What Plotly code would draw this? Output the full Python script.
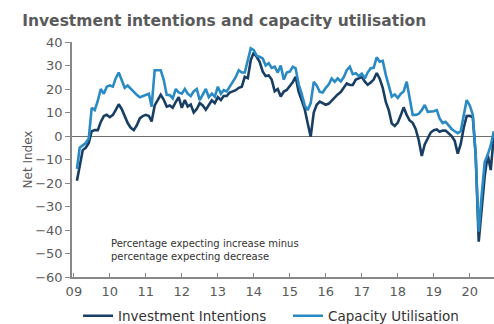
import pandas as pd
import plotly.graph_objects as go

# Monthly survey balances, Feb 2009 - Sep 2020
dates = pd.date_range("2009-02-01", periods=140, freq="MS")

investment_intentions = [
    -19, -12, -6, -5, -3, 2, 2.5, 2.5, 6, 8.5, 9,
    8, 9, 11, 13.5, 11.5, 8.5, 5.5, 3.5, 2.5, 4.5, 7.5, 8.5,
    9, 8.5, 6.2, 13, 15.5, 17.5, 15.5, 12.5, 13, 12, 14.5, 16.5,
    12, 15.3, 12.5, 13.4, 10, 11.5, 14, 13, 11.2, 13, 15.2, 14,
    16.5, 15.3, 17, 17, 18.5, 19, 19.5, 20.5, 21, 25.2, 24.6, 32.3,
    35.5, 33.5, 31.6, 27.5, 25.5, 25.8, 24, 19, 20, 16.8, 18.9, 19.6,
    21.3, 23, 25.2, 18.8, 15.3, 11.5, 5.5, -0.3, 10, 13.3, 14.6, 14,
    13.3, 13.8, 15.2, 16.7, 17.7, 18.7, 20.7, 22.4, 21.7, 21.7, 24, 24.6,
    25.1, 23.1, 21.8, 22.8, 24, 26.8, 24.4, 20.5, 14.5, 11, 5.3, 4.3,
    5.7, 8.9, 12.2, 9, 6.6, 5.6, 3, -1.7, -8.5, -3.6, -1, 1.5,
    2.5, 2.8, 1.8, 2.3, 2.3, 1.2, 0, -2, -7.5, -3.5, 3.5, 8.5,
    8.6, 8, -8, -45, -30, -17, -8, -14.5, 0.4,
]

capacity_utilisation = [
    -14, -5, -4, -3, -1, 12, 11, 15, 20, 18, 21,
    21.5, 21, 24.5, 27, 24, 20.5, 21.5, 20, 18.5, 17.5, 16.5, 17,
    17.5, 18, 12.5, 28, 28, 28, 24, 17.5, 17.4, 16, 20, 18.5,
    18, 20, 18, 17, 19, 20, 15.3, 18, 20, 16.5, 18, 16.7,
    21, 18, 19.5, 19, 21, 22.5, 25, 28, 27, 27, 32, 37.3,
    36.5, 34, 33.7, 33, 30, 31, 29, 29.5, 27, 30, 24, 27,
    27.4, 29.5, 28.8, 22, 18, 13, 11, 14, 23, 21.5, 18.8, 18.5,
    20.5, 22, 24.5, 23.1, 24.5, 23.2, 25, 28, 29.5, 26.3, 26.7, 25.5,
    26.5, 24.5, 27, 28.8, 29, 33.5, 31.6, 32, 26, 21, 16.8, 17.7,
    16.2, 18, 18.9, 23.1, 15.3, 9, 9, 9.4, 11, 13.2, 10.3, 10.3,
    10.5, 11, 7.5, 5.5, 6, 4.5, 3, 2, 1.2, 2, 8, 15.3,
    13, 9, -8, -40.7, -25, -11, -8, -4, 2,
]

year_ticks = pd.date_range("2009-01-01", "2020-01-01", freq="YS")
year_labels = ["09", "10", "11", "12", "13", "14", "15", "16", "17", "18", "19", "20"]
y_ticks = [40, 30, 20, 10, 0, -10, -20, -30, -40, -50, -60]

DARK = "#183f63"
LIGHT = "#2a8ac4"
GREY = "#5a5a5a"
FONT = "DejaVu Sans"

fig = go.Figure()
fig.add_trace(go.Scatter(
    x=dates, y=investment_intentions, mode="lines",
    name="Investment Intentions", line=dict(color=DARK, width=2.6),
    legend="legend",
))
fig.add_trace(go.Scatter(
    x=dates, y=capacity_utilisation, mode="lines",
    name="Capacity Utilisation", line=dict(color=LIGHT, width=2.6),
    legend="legend2",
))

legend_style = dict(
    orientation="h", xref="container", yref="container",
    xanchor="left", y=0.025, yanchor="middle",
    font=dict(family=FONT, size=13.5, color="#333333"),
    itemwidth=30, bgcolor="rgba(0,0,0,0)",
)

fig.update_layout(
    width=494, height=324,
    margin=dict(l=72, r=0, t=42, b=47, autoexpand=False),
    paper_bgcolor="white", plot_bgcolor="white",
    font=dict(family=FONT, size=12, color=GREY),
    title=dict(
        text="<b>Investment intentions and capacity utilisation</b>",
        font=dict(family=FONT, size=15.5, color=GREY),
        x=0.045, xanchor="left", xref="container",
        y=0.938, yanchor="middle", yref="container",
    ),
    showlegend=True,
    legend=dict(x=0.158, **legend_style),
    legend2=dict(x=0.583, **legend_style),
    annotations=[dict(
        text="Percentage expecting increase minus<br>percentage expecting decrease",
        xref="paper", yref="paper", x=0.087, y=0.113,
        xanchor="left", yanchor="middle", align="left", showarrow=False,
        font=dict(family=FONT, size=10, color="#333333"),
    )],
)

fig.update_xaxes(
    type="date",
    range=["2008-12-13", "2020-09-03"],
    tickvals=year_ticks, ticktext=year_labels,
    showgrid=False, zeroline=False,
    showline=True, linecolor="#888888", linewidth=1.5,
    ticks="inside", ticklen=4, tickcolor="#888888",
    ticklabelstandoff=2,
    tickfont=dict(family=FONT, size=13, color=GREY),
)
fig.update_yaxes(
    range=[-60, 40], tickvals=y_ticks,
    showgrid=False,
    zeroline=True, zerolinecolor="#6e6e6e", zerolinewidth=1,
    showline=True, linecolor="#888888", linewidth=1.5,
    ticks="outside", ticklen=5, tickcolor="#888888",
    tickfont=dict(family=FONT, size=13, color=GREY),
    title=dict(text="Net Index", font=dict(family=FONT, size=12, color=GREY), standoff=0),
)

fig.write_html("out.html")
